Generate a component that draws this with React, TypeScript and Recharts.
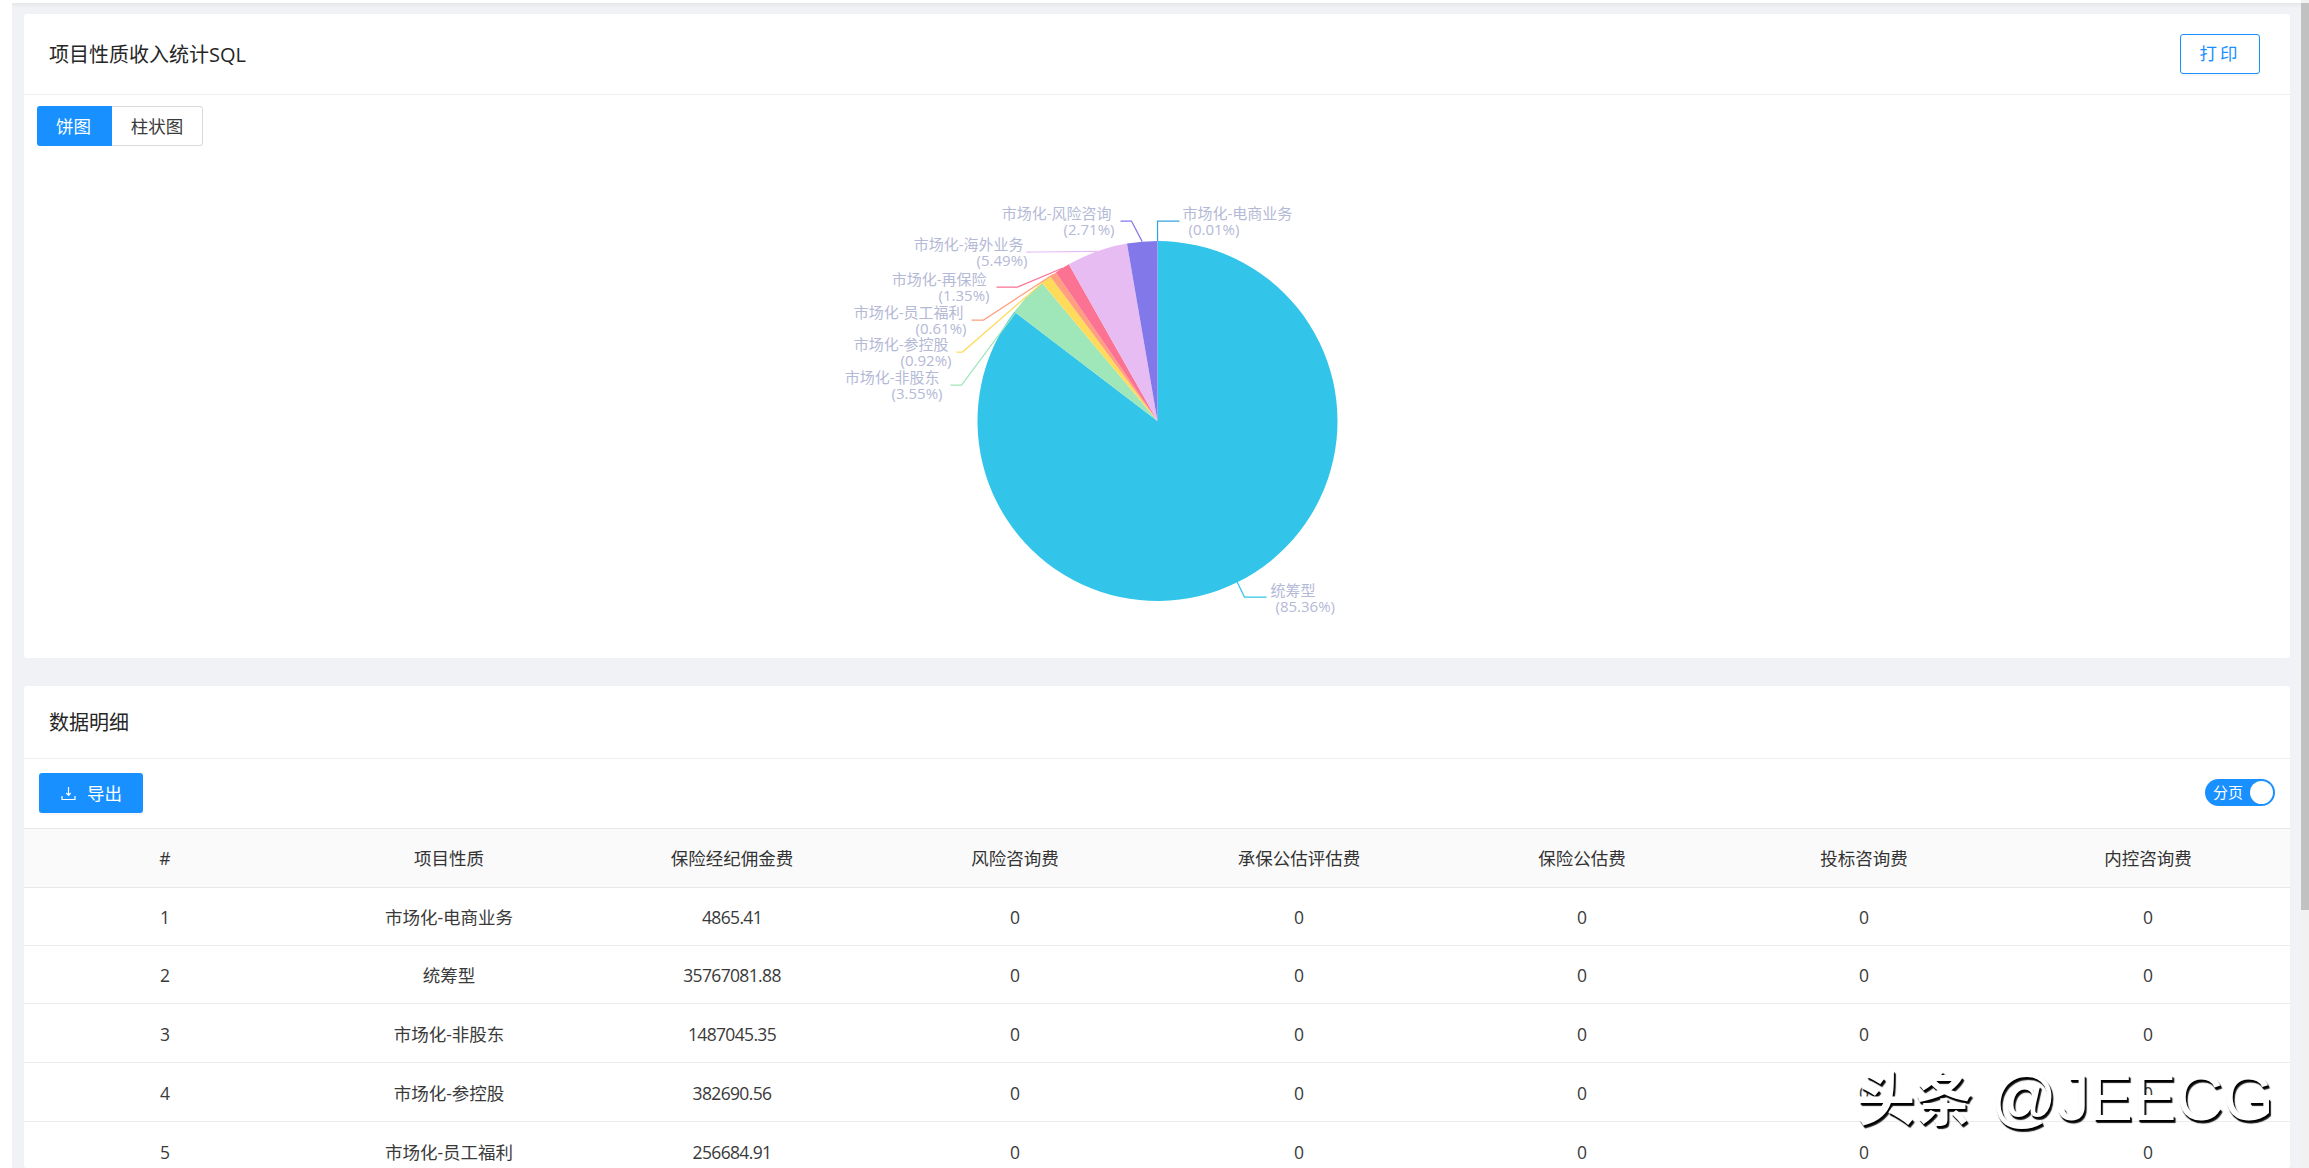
import React from 'react';
import { PieChart, Pie, Cell } from 'recharts';

const categories = ['市场化-电商业务', '统筹型', '市场化-非股东', '市场化-参控股', '市场化-员工福利', '市场化-再保险', '市场化-海外业务', '市场化-风险咨询'];
const percents = [0.01, 85.36, 3.55, 0.92, 0.61, 1.35, 5.49, 2.71];
const colors = ['#37A2DA', '#32C5E9', '#9FE6B8', '#FFDB5C', '#ff9f7f', '#fb7293', '#e7bcf3', '#8378EA'];

const tableHeaders = ['#', '项目性质', '保险经纪佣金费', '风险咨询费', '承保公估评估费', '保险公估费', '投标咨询费', '内控咨询费'];
const rowNumbers = ['1', '2', '3', '4', '5'];
const rowNames = ['市场化-电商业务', '统筹型', '市场化-非股东', '市场化-参控股', '市场化-员工福利'];
const brokerFees = ['4865.41', '35767081.88', '1487045.35', '382690.56', '256684.91'];
const otherFees = ['0', '0', '0', '0', '0'];

const columnCenters = [165, 449, 732, 1015, 1299, 1582, 1864, 2148];

// elbow and line end of each label, relative to the pie centre
const labelLayout = [
  { ex: 0, ey: -200, lx: 22, side: 1, tx: 25, ty: -200, px: 31 },
  { ex: 87, ey: 176, lx: 109, side: 1, tx: 113, ty: 177, px: 118 },
  { ex: -196, ey: -36, lx: -207, side: -1, tx: -218, ty: -36, px: -215 },
  { ex: -195, ey: -69, lx: -201, side: -1, tx: -209, ty: -69, px: -206 },
  { ex: -174, ey: -101, lx: -186, side: -1, tx: -194, ty: -101, px: -191 },
  { ex: -140, ey: -134, lx: -161, side: -1, tx: -171, ty: -134, px: -168 },
  { ex: -120, ey: -169, lx: -131, side: -1, tx: -134, ty: -169, px: -130 },
  { ex: -26, ey: -200, lx: -37, side: -1, tx: -46, ty: -200, px: -43 },
];

const FONT = '"Open Sans", "Noto Sans CJK SC", sans-serif';

const pieData = categories.map((name, i) => ({ name, value: percents[i] }));

const renderLabel = (p: any) => {
  const { cx, cy, midAngle, outerRadius, index } = p;
  const l = labelLayout[index];
  const rad = (midAngle * Math.PI) / 180;
  const sx = cx + outerRadius * Math.cos(rad);
  const sy = cy - outerRadius * Math.sin(rad);
  const anchor = l.side > 0 ? 'start' : 'end';
  return (
    <g>
      <polyline
        points={`${sx},${sy} ${cx + l.ex},${cy + l.ey} ${cx + l.lx},${cy + l.ey}`}
        fill="none"
        stroke={colors[index]}
        strokeWidth={1.25}
      />
      <text x={cx + l.tx} y={cy + l.ty - 2} textAnchor={anchor} fontSize={15} fill="#b4b9d6" fontFamily={FONT}>
        {categories[index]}
      </text>
      <text x={cx + l.px} y={cy + l.ty + 13.5} textAnchor={anchor} fontSize={15} fill="#b4b9d6" fontFamily={FONT}>
        ({percents[index].toFixed(2)}%)
      </text>
    </g>
  );
};

const box = (left: number, top: number, width: number, height: number, extra?: React.CSSProperties): React.CSSProperties => ({
  position: 'absolute', left, top, width, height, ...extra,
});

const Cellish = ({ x, y, text, color = '#3a3a3a', spacing = 0 }: { x: number; y: number; text: string; color?: string; spacing?: number }) => (
  <div style={{ position: 'absolute', left: x - 150, width: 300, top: y - 14, height: 28, lineHeight: '28px', textAlign: 'center', fontSize: 17.5, color, letterSpacing: spacing }}>
    {text}
  </div>
);

const rowTops = [887, 945, 1004, 1063, 1122];

export default function App() {
  return (
    <div style={box(0, 0, 2309, 1168, { background: '#fff', overflow: 'hidden', fontFamily: FONT })}>
      <div style={box(12, 3, 2289, 1165, { background: '#f0f2f5' })} />
      <div style={box(12, 3, 2289, 5, { background: 'linear-gradient(#e6e7ea, #f0f2f5)' })} />
      <div style={box(2301, 0, 8, 1168, { background: '#f1f1f1' })} />
      <div style={box(2301, 3, 8, 907, { background: '#c1c1c1' })} />

      {/* chart card */}
      <div style={box(24, 14, 2266, 644, { background: '#fff', borderRadius: 3 })} />
      <div style={box(24, 94, 2266, 1, { background: '#eeeeee' })} />
      <div style={box(49, 38, 400, 34, { fontSize: 20, lineHeight: '34px', color: '#262626' })}>项目性质收入统计SQL</div>
      <div style={box(2180, 34, 80, 40, { boxSizing: 'border-box', border: '1.5px solid #1890ff', borderRadius: 3, color: '#1890ff', fontSize: 17.5, lineHeight: '37px', textAlign: 'center', letterSpacing: 3, boxShadow: '0 2px 0 rgba(0,0,0,0.03)' })}>打印</div>
      <div style={box(37, 106, 75, 40, { boxSizing: 'border-box', paddingRight: 2, background: '#1890ff', color: '#fff', fontSize: 17.5, lineHeight: '40px', textAlign: 'center', borderRadius: '3px 0 0 3px' })}>饼图</div>
      <div style={box(112, 106, 91, 40, { boxSizing: 'border-box', border: '1px solid #d9d9d9', borderLeft: 'none', color: '#3a3a3a', fontSize: 17.5, lineHeight: '38px', textAlign: 'center', borderRadius: '0 3px 3px 0' })}>柱状图</div>

      <div style={box(24, 150, 2266, 500)}>
        <PieChart width={2266} height={500} margin={{ top: 0, right: 0, bottom: 0, left: 0 }}>
          <Pie
            data={pieData}
            dataKey="value"
            nameKey="name"
            cx={1133.5}
            cy={271}
            innerRadius={0}
            outerRadius={180}
            startAngle={90}
            endAngle={-270}
            stroke="none"
            label={renderLabel}
            labelLine={false}
            isAnimationActive={false}
          >
            {pieData.map((d, i) => (
              <Cell key={d.name} fill={colors[i]} stroke="none" />
            ))}
          </Pie>
        </PieChart>
      </div>

      {/* table card */}
      <div style={box(24, 686, 2266, 482, { background: '#fff', borderRadius: 3 })} />
      <div style={box(24, 758, 2266, 1, { background: '#eeeeee' })} />
      <div style={box(49, 706, 300, 34, { fontSize: 20, lineHeight: '34px', color: '#262626' })}>数据明细</div>
      <div style={box(39, 773, 104, 40, { background: '#1890ff', borderRadius: 3, color: '#fff', fontSize: 17.5, lineHeight: '40px', paddingLeft: 48, boxSizing: 'border-box', boxShadow: '0 2px 0 rgba(0,0,0,0.03)' })}>导出</div>
      <svg style={box(61, 786, 15, 15)} viewBox="0 0 15 15">
        <path d="M7.5 1 V9 M5.3 7 L7.5 9.4 L9.7 7 M1 10 V13.5 H14 V10" fill="none" stroke="#fff" strokeWidth={1.2} />
      </svg>
      <div style={box(2205, 779, 70, 27, { background: '#1890ff', borderRadius: 14, color: '#fff', fontSize: 15, lineHeight: '27px', paddingLeft: 8, boxSizing: 'border-box' })}>分页</div>
      <div style={box(2250, 781, 23, 23, { background: '#fff', borderRadius: 12 })} />

      <div style={box(24, 828, 2266, 60, { background: '#fafafa', borderTop: '1px solid #e8e8e8', borderBottom: '1px solid #e8e8e8', boxSizing: 'border-box' })} />
      {tableHeaders.map((h, i) => (
        <Cellish key={h} x={columnCenters[i]} y={858} text={h} color="#333" />
      ))}
      {rowNumbers.map((n, r) => {
        const cells = [n, rowNames[r], brokerFees[r], otherFees[r], otherFees[r], otherFees[r], otherFees[r], otherFees[r]];
        return (
          <React.Fragment key={n}>
            <div style={box(24, rowTops[r] + 58, 2266, 1, { background: '#ececec' })} />
            {cells.map((c, i) => (
              <Cellish key={i} x={columnCenters[i]} y={rowTops[r] + 30} text={c} spacing={i === 2 ? -0.65 : 0} />
            ))}
          </React.Fragment>
        );
      })}

      {/* watermark */}
      <div style={box(1857, 1058, 440, 80, { color: '#fff', textShadow: '1px 2px 1px #000, 2px 3px 1px #222', fontFamily: '"Liberation Sans", "Noto Sans CJK SC", sans-serif', lineHeight: '80px', whiteSpace: 'nowrap', fontSize: 65 })}>
        <span style={{ fontSize: 58, fontWeight: 700 }}>头条</span>
        <span> @JEECG</span>
      </div>
    </div>
  );
}
